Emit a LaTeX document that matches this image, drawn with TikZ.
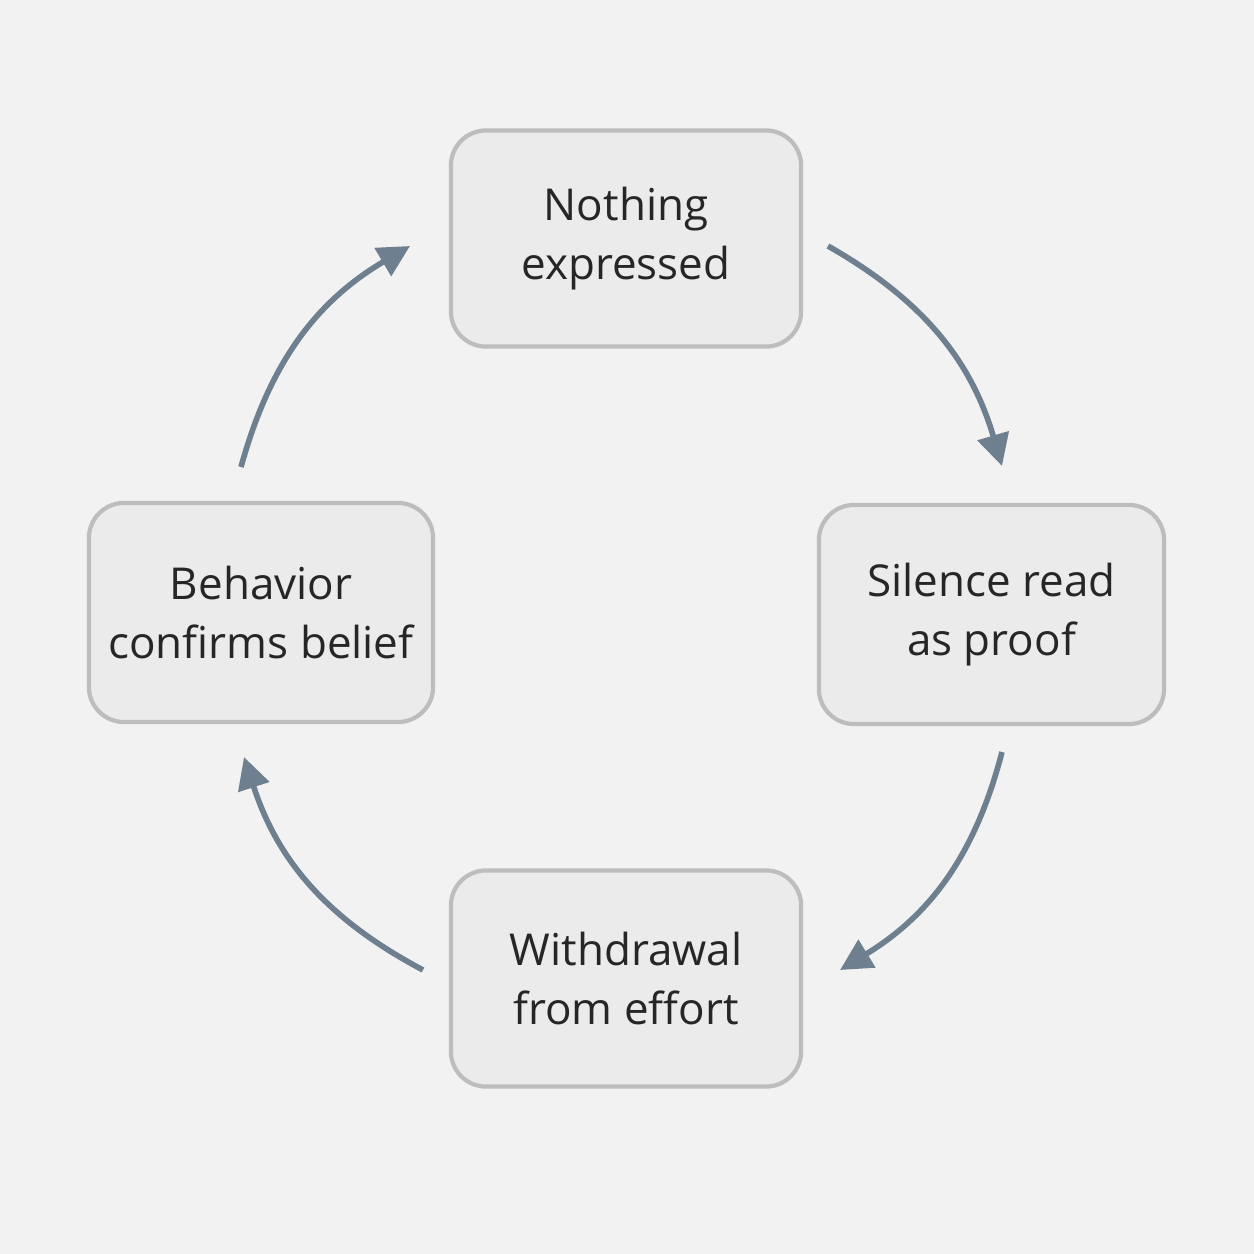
\documentclass[tikz,border=0pt]{standalone}
\usepackage{fontspec}
\setmainfont{Open Sans}
\usetikzlibrary{arrows.meta}
\definecolor{bg}{HTML}{F2F2F2}
\definecolor{boxf}{HTML}{EBEBEB}
\definecolor{boxd}{HTML}{BDBDBD}
\definecolor{arr}{HTML}{6E8090}
\begin{document}
\begin{tikzpicture}[x=0.01cm,y=-0.01cm,
 box/.style={draw=boxd,fill=boxf,line width=1.2pt,rounded corners=10pt,minimum width=3.5cm,minimum height=2.16cm,align=center,font=\fontsize{12.5}{17}\selectfont,text=black!85},
 flow/.style={draw=arr,line width=1.6pt,-{Triangle[length=9pt,width=9pt]}}]
\fill[bg] (0,0) rectangle (1254,1254);
\node[box] (t) at (626,238.5) {Nothing\\expressed};
\node[box,minimum width=3.45cm,minimum height=2.19cm] (r) at (991.5,614.5) {Silence read\\as proof};
\node[box] (b) at (626,978.5) {Withdrawal\\from effort};
\node[box,minimum width=3.44cm,minimum height=2.19cm] (l) at (261,612.5) {Behavior\\confirms belief};
\coordinate (a1) at (828,246); \coordinate (a2) at (1002,466);
\coordinate (b1) at (1002,752); \coordinate (b2) at (840,970);
\coordinate (c1) at (423,970); \coordinate (c2) at (244,757);
\coordinate (d1) at (241,467); \coordinate (d2) at (410,246);
\draw[flow] (a1) to[bend left=22] (a2);
\draw[flow] (b1) to[bend left=22] (b2);
\draw[flow] (c1) to[bend left=22] (c2);
\draw[flow] (d1) to[bend left=22] (d2);
\end{tikzpicture}
\end{document}
